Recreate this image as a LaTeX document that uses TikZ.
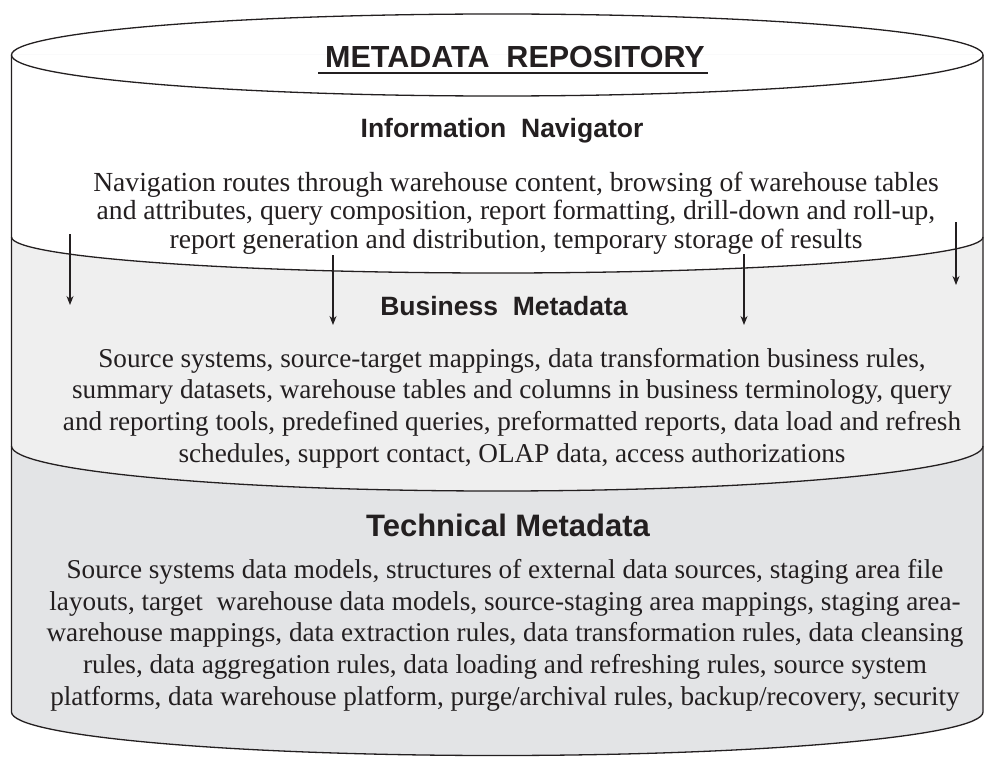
\documentclass[tikz,border=0pt]{standalone}
\usepackage{fontspec}
\setmainfont{Liberation Serif}
\setsansfont{Liberation Sans}
\usetikzlibrary{arrows.meta}
\definecolor{bizgray}{HTML}{EFEFEF}
\definecolor{techgray}{HTML}{E3E4E6}
\definecolor{ink}{HTML}{231F20}
\tikzset{
  outline/.style={draw=ink, line width=1.3pt},
  maintitle/.style={font=\sffamily\bfseries\fontsize{30.5}{34}\selectfont, text=ink, inner sep=0pt, anchor=base},
  layertitle/.style={font=\sffamily\bfseries\fontsize{26.5}{30}\selectfont, text=ink, inner sep=0pt, anchor=base},
  navbody/.style={font=\fontsize{27.6}{28.5}\selectfont, text=ink, align=center, inner sep=0pt, anchor=base},
  layerbody/.style={font=\fontsize{27.2}{31.6}\selectfont, text=ink, align=center, inner sep=0pt, anchor=base},
  flow/.style={draw=ink, line width=1.1pt, -{Stealth[length=9pt,width=7pt]}}
}
\begin{document}
\begin{tikzpicture}[x=1pt,y=-1pt]
\useasboundingbox (0,0) rectangle (984,757);
% layer fills
\fill[techgray] (11.5,55) -- (11.5,712) arc[start angle=180,end angle=360,x radius=485.75pt,y radius=43.5pt] -- (983,55) -- cycle;
\fill[bizgray] (11.5,55) -- (11.5,446) arc[start angle=180,end angle=360,x radius=485.75pt,y radius=45pt] -- (983,55) -- cycle;
\fill[white] (11.5,55) -- (11.5,237) arc[start angle=180,end angle=360,x radius=485.75pt,y radius=36pt] -- (983,55) -- cycle;
% outline
\draw[outline] (497.25,55) ellipse[x radius=485.75pt, y radius=41pt];
\draw[outline] (11.5,55) -- (11.5,712) arc[start angle=180,end angle=360,x radius=485.75pt,y radius=43.5pt] -- (983,55);
\draw[outline] (11.5,237) arc[start angle=180,end angle=360,x radius=485.75pt,y radius=36pt];
\draw[outline] (11.5,446) arc[start angle=180,end angle=360,x radius=485.75pt,y radius=45pt];
% texts
\node[maintitle] (title) at (515,68) {METADATA\ \ REPOSITORY};
\draw[draw=ink, line width=2.8pt] ([yshift=-5pt,xshift=-7pt]title.base west) -- ([yshift=-5pt,xshift=3pt]title.base east);
\node[layertitle] (navtitle) at (502,137) {Information\ \ Navigator};
\node[navbody] (navtext) at (516,248) {Navigation routes through warehouse content, browsing of warehouse tables\\
and attributes, query composition, report formatting, drill-down and roll-up,\\
report generation and distribution, temporary storage of results};
\node[layertitle] (biztitle) at (504,315) {Business\ \ Metadata};
\node[layerbody] (biztext) at (512,462) {Source systems, source-target mappings, data transformation business rules,\\
summary datasets, warehouse tables and columns in business terminology, query\\
and reporting tools, predefined queries, preformatted reports, data load and refresh\\
schedules, support contact, OLAP data, access authorizations};
\node[layertitle, font=\sffamily\bfseries\fontsize{31}{35}\selectfont] (techtitle) at (508,536) {Technical Metadata};
\node[layerbody] (techtext) at (505,705) {Source systems data models, structures of external data sources, staging area file\\
layouts, target\ \ warehouse data models, source-staging area mappings, staging area-\\
warehouse mappings, data extraction rules, data transformation rules, data cleansing\\
rules, data aggregation rules, data loading and refreshing rules, source system\\
platforms, data warehouse platform, purge/archival rules, backup/recovery, security};
% arrows
\coordinate (a1s) at (70,234);  \coordinate (a1e) at (70,305);
\coordinate (a2s) at (333,255); \coordinate (a2e) at (333,325);
\coordinate (a3s) at (744,254); \coordinate (a3e) at (744,325);
\coordinate (a4s) at (956,222); \coordinate (a4e) at (956,285);
\draw[flow] (a1s) -- (a1e);
\draw[flow] (a2s) -- (a2e);
\draw[flow] (a3s) -- (a3e);
\draw[flow] (a4s) -- (a4e);
\end{tikzpicture}
\end{document}
